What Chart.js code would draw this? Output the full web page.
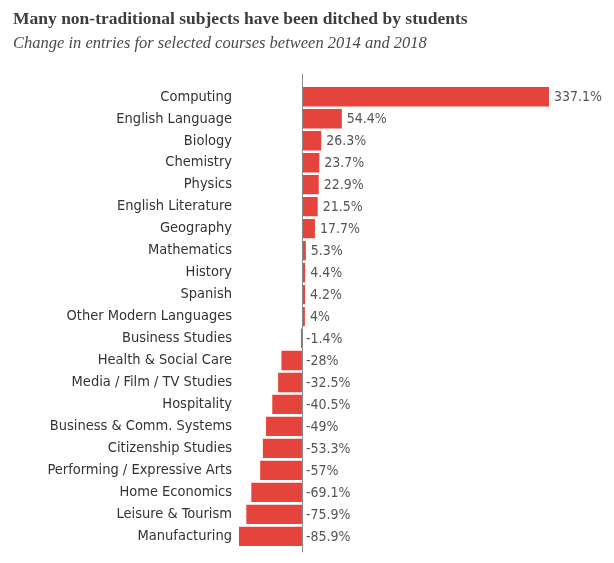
<!DOCTYPE html>
<html><head><meta charset="utf-8">
<script src="https://cdn.jsdelivr.net/npm/chart.js@4/dist/chart.umd.min.js"></script>
<style>html,body{margin:0;padding:0;background:#fff}#wrap{width:614px;height:563px}</style>
</head><body><div id="wrap"><canvas id="c" width="614" height="563"></canvas></div>
<script>
const categories = ["Computing","English Language","Biology","Chemistry","Physics","English Literature","Geography","Mathematics","History","Spanish","Other Modern Languages","Business Studies","Health & Social Care","Media / Film / TV Studies","Hospitality","Business & Comm. Systems","Citizenship Studies","Performing / Expressive Arts","Home Economics","Leisure & Tourism","Manufacturing"];
const changes = [337.1,54.4,26.3,23.7,22.9,21.5,17.7,5.3,4.4,4.2,4,-1.4,-28,-32.5,-40.5,-49,-53.3,-57,-69.1,-75.9,-85.9];
const titleText = "Many non-traditional subjects have been ditched by students";
const subtitleText = "Change in entries for selected courses between 2014 and 2018";

const LABEL_FONT = '"Liberation Sans Narrow", "DejaVu Sans Condensed", "Roboto Condensed", sans-serif';

const valueLabels = {
  id: 'valueLabels',
  afterDatasetsDraw(chart) {
    const ctx = chart.ctx;
    const meta = chart.getDatasetMeta(0);
    const xs = chart.scales.x;
    const zero = xs.getPixelForValue(0);
    ctx.save();
    ctx.font = '14px ' + LABEL_FONT;
    ctx.fillStyle = '#555';
    ctx.textAlign = 'left';
    ctx.textBaseline = 'middle';
    meta.data.forEach((bar, i) => {
      const v = changes[i];
      const x = v >= 0 ? xs.getPixelForValue(v) + 5 : zero + 4;
      ctx.fillText(String(v) + '%', x, bar.y + 1);
    });
    ctx.strokeStyle = '#8a8a8a';
    ctx.lineWidth = 1;
    ctx.beginPath();
    const zx = Math.round(zero) + 0.5;
    ctx.moveTo(zx, chart.chartArea.top - 12);
    ctx.lineTo(zx, chart.chartArea.bottom + 5);
    ctx.stroke();
    ctx.restore();
  }
};

new Chart(document.getElementById('c'), {
  type: 'bar',
  data: {
    labels: categories,
    datasets: [{ data: changes, backgroundColor: '#e5443c', borderWidth: 0,
      categoryPercentage: 1, barPercentage: 0.88 }]
  },
  options: {
    indexAxis: 'y',
    responsive: false,
    animation: false,
    layout: { padding: { left: 13, right: 65, top: 9, bottom: 15 } },
    plugins: {
      legend: { display: false },
      tooltip: { enabled: false },
      title: { display: true, text: titleText, align: 'start', color: '#3d3d3d',
        font: { family: '"Liberation Serif", "DejaVu Serif", serif', size: 17.5, weight: 'bold', lineHeight: 1.2 },
        padding: { top: 0, bottom: 4 } },
      subtitle: { display: true, text: subtitleText, align: 'start', color: '#4a4a4a',
        font: { family: '"Liberation Serif", "DejaVu Serif", serif', size: 16.5, style: 'italic', lineHeight: 1.2 },
        padding: { top: 0, bottom: 32 } }
    },
    scales: {
      x: { display: false, min: -85.9, max: 337.1 },
      y: {
        grid: { display: false, drawTicks: false },
        border: { display: false },
        ticks: { color: '#333', padding: 7, font: { family: LABEL_FONT, size: 14.5 } },
        afterFit(s) { s.width = 226; }
      }
    }
  },
  plugins: [valueLabels]
});
</script></body></html>
